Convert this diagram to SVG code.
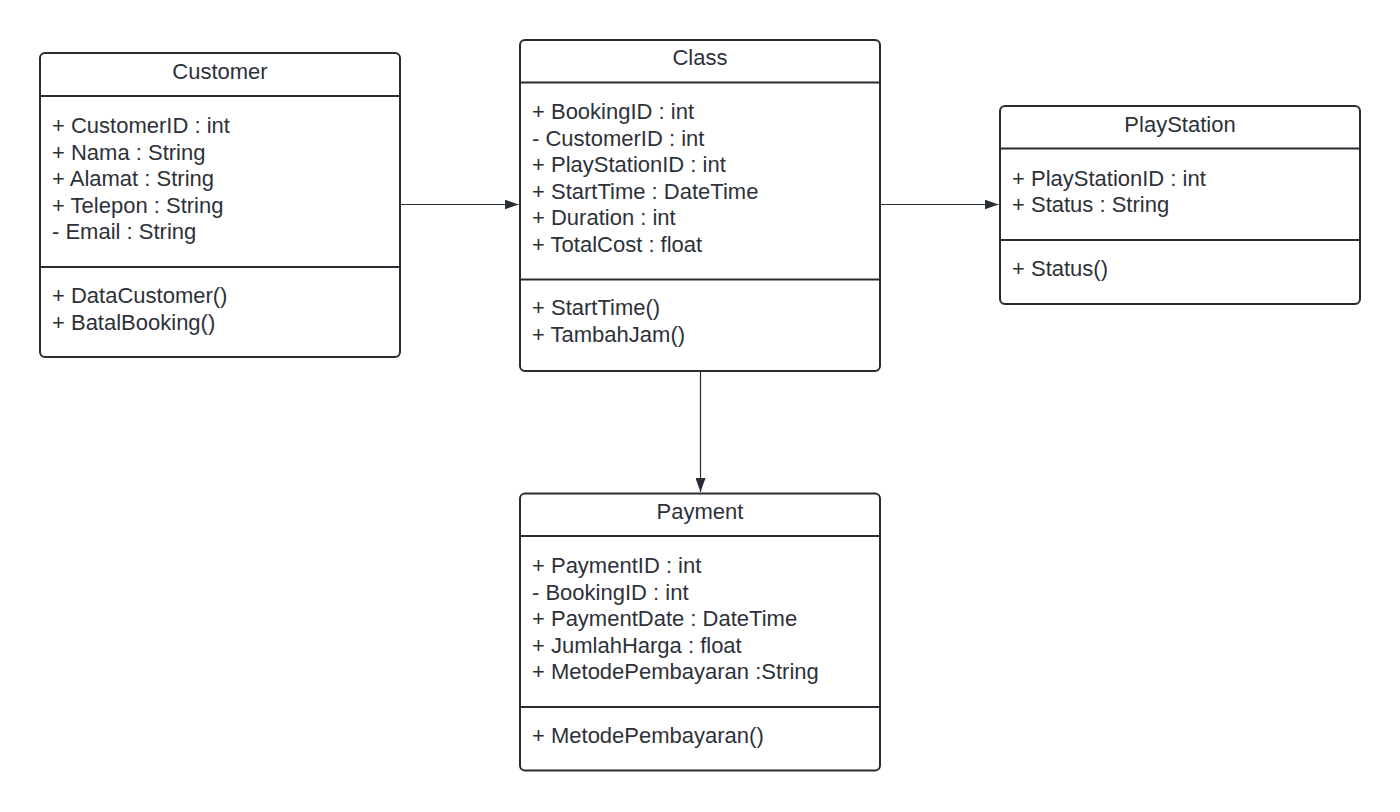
<svg xmlns="http://www.w3.org/2000/svg" width="1400" height="812" viewBox="0 0 1400 812">
<style>
.box{fill:#ffffff;stroke:#282c33;stroke-width:2}
.div{stroke:#282c33;stroke-width:2}
text{font-family:"Liberation Sans",Arial,sans-serif;font-size:22px;fill:#2d3139}
.t{text-anchor:middle}
.con{stroke:#282c33;stroke-width:1.2;fill:none}
</style>
<defs>
<marker id="arr" viewBox="0 0 14 10" refX="14" refY="5" markerWidth="14" markerHeight="10" markerUnits="userSpaceOnUse" orient="auto">
<path d="M0,0 L14,5 L0,10 Z" fill="#282c33"/>
</marker>
</defs>
<rect width="1400" height="812" fill="#ffffff"/>
<g id="connectors">
<line class="con" x1="401" y1="204.5" x2="518.5" y2="204.5" marker-end="url(#arr)"/>
<line class="con" x1="881" y1="204.5" x2="998.5" y2="204.5" marker-end="url(#arr)"/>
<line class="con" x1="700.5" y1="371" x2="700.5" y2="492" marker-end="url(#arr)"/>
</g>
<g id="customer">
<rect class="box" x="40" y="53" width="360" height="304" rx="5"/>
<line class="div" x1="40" y1="96" x2="400" y2="96"/>
<line class="div" x1="40" y1="267" x2="400" y2="267"/>
<text class="t" x="220" y="79">Customer</text>
<text x="52" y="133">+ CustomerID : int</text>
<text x="52" y="159.5">+ Nama : String</text>
<text x="52" y="186">+ Alamat : String</text>
<text x="52" y="212.5">+ Telepon : String</text>
<text x="52" y="239">- Email : String</text>
<text x="52" y="303">+ DataCustomer()</text>
<text x="52" y="329.5">+ BatalBooking()</text>
</g>
<g id="class">
<rect class="box" x="520" y="40" width="360" height="331" rx="5"/>
<line class="div" x1="520" y1="82.5" x2="880" y2="82.5"/>
<line class="div" x1="520" y1="279.5" x2="880" y2="279.5"/>
<text class="t" x="700" y="65">Class</text>
<text x="532" y="119">+ BookingID : int</text>
<text x="532" y="145.5">- CustomerID : int</text>
<text x="532" y="172">+ PlayStationID : int</text>
<text x="532" y="198.5">+ StartTime : DateTime</text>
<text x="532" y="225">+ Duration : int</text>
<text x="532" y="251.5">+ TotalCost : float</text>
<text x="532" y="315">+ StartTime()</text>
<text x="532" y="341.5">+ TambahJam()</text>
</g>
<g id="playstation">
<rect class="box" x="1000" y="106" width="360" height="198" rx="5"/>
<line class="div" x1="1000" y1="148.5" x2="1360" y2="148.5"/>
<line class="div" x1="1000" y1="240" x2="1360" y2="240"/>
<text class="t" x="1180" y="131.5">PlayStation</text>
<text x="1012" y="185.5">+ PlayStationID : int</text>
<text x="1012" y="212">+ Status : String</text>
<text x="1012" y="276">+ Status()</text>
</g>
<g id="payment">
<rect class="box" x="520" y="493.5" width="360" height="277" rx="5"/>
<line class="div" x1="520" y1="536" x2="880" y2="536"/>
<line class="div" x1="520" y1="707" x2="880" y2="707"/>
<text class="t" x="700" y="519">Payment</text>
<text x="532" y="573">+ PaymentID : int</text>
<text x="532" y="599.5">- BookingID : int</text>
<text x="532" y="626">+ PaymentDate : DateTime</text>
<text x="532" y="652.5">+ JumlahHarga : float</text>
<text x="532" y="679">+ MetodePembayaran :String</text>
<text x="532" y="742.5">+ MetodePembayaran()</text>
</g>
</svg>
